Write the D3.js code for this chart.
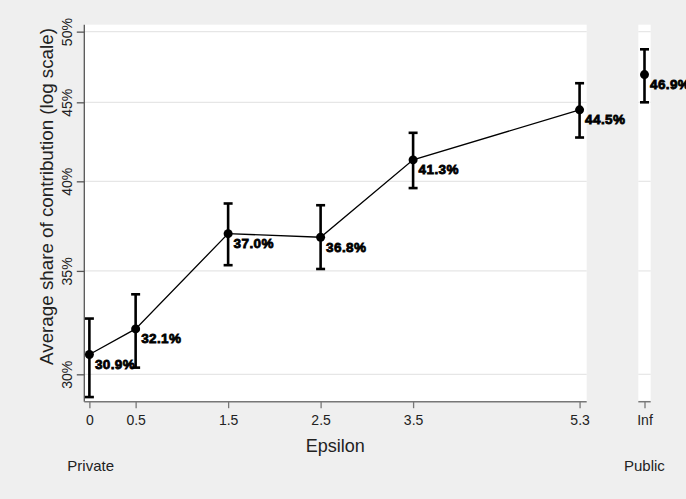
<!DOCTYPE html>
<html><head><meta charset="utf-8">
<script src="https://cdn.jsdelivr.net/npm/d3@7"></script>
<style>
html,body{margin:0;padding:0;background:#efefef;}
svg{display:block;}
</style></head>
<body>
<svg id="chart" width="686" height="499"></svg>
<script>
// ---- data ----
const epsValues = [0, 0.5, 1.5, 2.5, 3.5, 5.3];
const epsLabels = ["0", "0.5", "1.5", "2.5", "3.5", "5.3"];
const shareMain = [30.9, 32.1, 37.0, 36.8, 41.3, 44.5];
const loMain    = [29.0, 30.3, 35.3, 35.1, 39.6, 42.7];
const hiMain    = [32.6, 33.8, 38.7, 38.6, 43.0, 46.3];
const infLabel = "Inf";
const shareInf = 46.9;
const loInf = 45.0;
const hiInf = 48.7;
const yTicks = [30, 35, 40, 45, 50];

(function(){
const svg = d3.select("#chart");
svg.append("rect").attr("width",686).attr("height",499).attr("fill","#efefef");

const pTop = 24.7, pBottom = 401.7;
const mainL = 84.3, mainR = 586.7;
const infL = 638.3, infR = 650.7;

const x = d3.scaleLinear().domain([-0.055, 5.377]).range([mainL, mainR]);
const xInf = d3.scalePoint().domain([infLabel]).range([infL, infR]).padding(0.5);
const y = d3.scaleLog().domain([28.8, 50.52]).range([pBottom, pTop]);

// plot regions
svg.append("rect").attr("x",mainL).attr("y",pTop).attr("width",mainR-mainL).attr("height",pBottom-pTop).attr("fill","#fff");
svg.append("rect").attr("x",infL).attr("y",pTop).attr("width",infR-infL).attr("height",pBottom-pTop).attr("fill","#fff");

// gridlines
[[mainL, mainR],[infL, infR]].forEach(([a,b]) => {
  svg.append("g").selectAll("line").data(yTicks).join("line")
    .attr("x1",a).attr("x2",b)
    .attr("y1",d=>y(d)).attr("y2",d=>y(d))
    .attr("stroke","#e6e6e6").attr("stroke-width",1.2);
});

// y axis
const yAxis = svg.append("g").attr("transform",`translate(${mainL},0)`)
  .call(d3.axisLeft(y).tickValues(yTicks).tickSize(7.5).tickFormat(d=>d+"%"));
yAxis.select(".domain").attr("stroke","#555").attr("stroke-width",1.3).attr("d",`M0,${pTop}V${pBottom}`);
yAxis.selectAll(".tick line").attr("stroke","#555").attr("stroke-width",1.3);
yAxis.selectAll(".tick text")
  .attr("transform","rotate(-90)")
  .attr("x",0).attr("y",-12.5).attr("dy",0)
  .attr("text-anchor","middle")
  .attr("font-family","Liberation Sans, Arial, sans-serif").attr("font-size",14).attr("fill","#222");

// x axis main
const xAxis = svg.append("g").attr("transform",`translate(0,${pBottom})`)
  .call(d3.axisBottom(x).tickValues(epsValues).tickSize(6.5).tickFormat((d,i)=>epsLabels[i]));
xAxis.select(".domain").attr("stroke","#777").attr("stroke-width",1.5).attr("d",`M${mainL},0H${mainR}`);
xAxis.selectAll(".tick line").attr("stroke","#777").attr("stroke-width",1.3);
xAxis.selectAll(".tick text").attr("y",23.5).attr("dy",0)
  .attr("font-family","Liberation Sans, Arial, sans-serif").attr("font-size",14).attr("fill","#222");

// x axis inf
const xAxisInf = svg.append("g").attr("transform",`translate(0,${pBottom})`)
  .call(d3.axisBottom(xInf).tickSize(6.5));
xAxisInf.select(".domain").attr("stroke","#777").attr("stroke-width",1.5).attr("d",`M${infL},0H${infR}`);
xAxisInf.selectAll(".tick line").attr("stroke","#777").attr("stroke-width",1.3);
xAxisInf.selectAll(".tick text").attr("y",23.5).attr("dy",0)
  .attr("font-family","Liberation Sans, Arial, sans-serif").attr("font-size",14).attr("fill","#222");

// titles
svg.append("text").attr("x",335.3).attr("y",451.7).attr("text-anchor","middle")
  .attr("font-family","Liberation Sans, Arial, sans-serif").attr("font-size",18).attr("fill","#222").text("Epsilon");
svg.append("text").attr("transform",`translate(53,196.5) rotate(-90)`).attr("text-anchor","middle")
  .attr("font-family","Liberation Sans, Arial, sans-serif").attr("font-size",18.8).attr("fill","#222")
  .text("Average share of contribution (log scale)");
svg.append("text").attr("x",67.3).attr("y",470.7)
  .attr("font-family","Liberation Sans, Arial, sans-serif").attr("font-size",15).attr("fill","#222").text("Private");
svg.append("text").attr("x",624).attr("y",470.7)
  .attr("font-family","Liberation Sans, Arial, sans-serif").attr("font-size",15).attr("fill","#222").text("Public");

// connecting line
const line = d3.line().x((d,i)=>x(epsValues[i])).y(d=>y(d));
svg.append("path").datum(shareMain).attr("d",line).attr("fill","none").attr("stroke","#000").attr("stroke-width",1.3);

// points list
const pts = shareMain.map((v,i)=>({cx:x(epsValues[i]), v, lo:loMain[i], hi:hiMain[i]}));
pts.push({cx:xInf(infLabel), v:shareInf, lo:loInf, hi:hiInf});

const cap = 4.5;
const g = svg.append("g");
pts.forEach(p=>{
  g.append("line").attr("x1",p.cx).attr("x2",p.cx).attr("y1",y(p.lo)).attr("y2",y(p.hi)).attr("stroke","#000").attr("stroke-width",2.6);
  g.append("line").attr("x1",p.cx-cap).attr("x2",p.cx+cap).attr("y1",y(p.lo)).attr("y2",y(p.lo)).attr("stroke","#000").attr("stroke-width",2.6);
  g.append("line").attr("x1",p.cx-cap).attr("x2",p.cx+cap).attr("y1",y(p.hi)).attr("y2",y(p.hi)).attr("stroke","#000").attr("stroke-width",2.6);
  g.append("circle").attr("cx",p.cx).attr("cy",y(p.v)).attr("r",4.5).attr("fill","#000");
  g.append("text").attr("x",p.cx+5.5).attr("y",y(p.v)+14.5)
    .attr("font-family","Liberation Sans, Arial, sans-serif").attr("font-weight","bold").attr("font-size",13.5)
    .attr("letter-spacing",0.4)
    .attr("fill","#000").attr("stroke","#000").attr("stroke-width",0.8)
    .text(p.v.toFixed(1)+"%");
});
})();
</script>
</body></html>
